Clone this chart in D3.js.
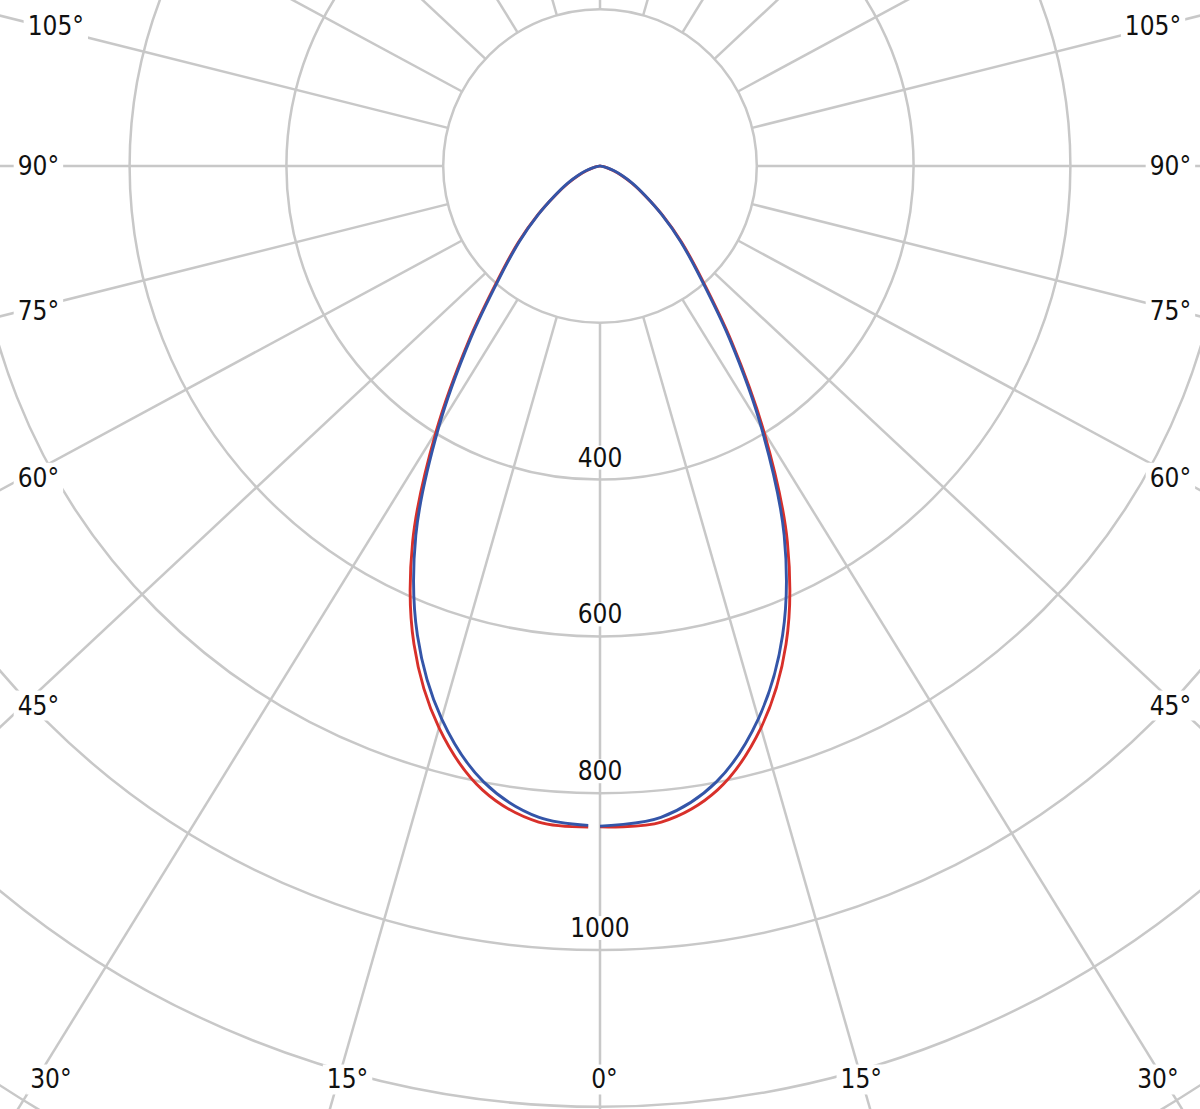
<!DOCTYPE html>
<html>
<head>
<meta charset="utf-8">
<script src="https://cdn.jsdelivr.net/npm/d3@7"></script>
<style>
html, body { margin: 0; padding: 0; background: #ffffff; }
svg { display: block; }
</style>
</head>
<body>
<svg id="chart" width="1200" height="1109"></svg>
<script>
// ---- data ----
const gammaAngles = [0, 5, 10, 15, 20, 25, 30, 35, 40, 45, 50, 55, 60, 65, 70, 75, 80, 85, 90];
const planeRed  = [843, 840, 808, 742, 649, 529, 391, 274, 190, 138, 97, 65, 44, 28, 16, 8, 3, 1, 0];
const planeBlue = [842, 834, 798, 730, 637, 520, 385, 270, 187, 136, 96, 66, 46, 30, 18, 10, 4, 1, 0];
const ringValues = [200, 400, 600, 800, 1000, 1200, 1400, 1600, 1800, 2000];
const ringLabelValues = [400, 600, 800, 1000];
const spokeAngles = [0, 15, 30, 45, 60, 75, 90, 105, 120, 135, 150, 165, 180, 195, 210, 225, 240, 255, 270, 285, 300, 315, 330, 345];
const angleLabels = [0, 15, 30, 45, 60, 75, 90, 105];

// ---- layout ----
const W = 1200, H = 1109;
const cx = 600, cy = 166;
const aspect = 1.069;            // horizontal stretch of the angular grid
const labelAspect = 1.05;
const fontSize = 26;
const capH = fontSize * 0.729;
const gridColor = "#c8c8c8";
const redColor = "#d8302a";
const blueColor = "#3455a8";

const svg = d3.select("#chart");
const rScale = d3.scaleLinear().domain([0, 1000]).range([0, 784]);
const rad = d => d * Math.PI / 180;
const px = (deg, v) => cx + aspect * rScale(v) * Math.sin(rad(deg));
const py = (deg, v) => cy + rScale(v) * Math.cos(rad(deg));
function dirOf(deg, k = aspect) {
  const x = k * Math.sin(rad(deg)), y = Math.cos(rad(deg));
  const n = Math.hypot(x, y);
  return [x / n, y / n];
}

const grid = svg.append("g");

// rings
grid.selectAll("circle.ring").data(ringValues).join("circle")
  .attr("class", "ring")
  .attr("cx", cx).attr("cy", cy)
  .attr("r", d => rScale(d))
  .attr("fill", "none")
  .attr("stroke", gridColor)
  .attr("stroke-width", 2.5);

// spokes (start on the innermost ring)
const r0 = rScale(ringValues[0]);
grid.selectAll("line.spoke").data(spokeAngles).join("line")
  .attr("class", "spoke")
  .attr("x1", d => cx + r0 * dirOf(d)[0])
  .attr("y1", d => cy + r0 * dirOf(d)[1])
  .attr("x2", d => cx + 3000 * dirOf(d)[0])
  .attr("y2", d => cy + 3000 * dirOf(d)[1])
  .attr("stroke", gridColor)
  .attr("stroke-width", 2.5);

// labels with white background
const labelLayer = svg.append("g")
  .attr("font-family", "'DejaVu Sans Condensed', 'DejaVu Sans', sans-serif")
  .attr("font-stretch", "condensed")
  .attr("font-size", fontSize)
  .attr("fill", "#111");

function addLabel(text, x, baseline, padX, padTop, padBottom) {
  const g = labelLayer.append("g");
  const rect = g.append("rect").attr("fill", "#ffffff");
  const t = g.append("text")
    .attr("x", x).attr("y", baseline)
    .attr("text-anchor", "middle")
    .text(text);
  const bb = t.node().getBBox();
  rect.attr("x", bb.x - padX)
    .attr("width", bb.width + 2 * padX)
    .attr("y", baseline - capH - padTop)
    .attr("height", capH + padTop + padBottom);
}

// ring value labels
ringLabelValues.forEach(v => {
  addLabel(String(v), cx, cy + rScale(v) - 13, 3, 2, 3);
});

// angle labels where the label direction meets the frame
const box = { x0: 34, x1: 1166, y0: 26, y1: 1079 };
angleLabels.forEach(a => {
  const sides = a === 0 ? [0] : [-a, a];
  sides.forEach(s => {
    const [dx, dy] = dirOf(s, labelAspect);
    const ts = [];
    if (dx < -1e-9) ts.push((box.x0 - cx) / dx);
    if (dx > 1e-9) ts.push((box.x1 - cx) / dx);
    if (dy > 1e-9) ts.push((box.y1 - cy) / dy);
    if (dy < -1e-9) ts.push((box.y0 - cy) / dy);
    const t = Math.min(...ts);
    const x = cx + t * dx + fontSize * 0.17;
    const y = cy + t * dy;
    addLabel(a + "°", x, y + capH / 2, 4, 5, 6);
  });
});

// luminous intensity curves
const line = d3.line()
  .x(d => px(d[0], d[1]))
  .y(d => py(d[0], d[1]))
  .curve(d3.curveCatmullRom.alpha(0.5));

const curves = svg.append("g").attr("fill", "none").attr("stroke-width", 2.9);
[[planeRed, redColor], [planeBlue, blueColor]].forEach(([vals, color]) => {
  const right = gammaAngles.map((g, i) => [g, vals[i]]);
  const left = gammaAngles.map((g, i) => [-g, vals[i]]);
  const lp = curves.append("path").attr("d", line(left)).attr("stroke", color);
  const len = lp.node().getTotalLength();
  lp.attr("stroke-dasharray", `0 12 ${len}`);
  curves.append("path").attr("d", line(right)).attr("stroke", color);
});
</script>
</body>
</html>
